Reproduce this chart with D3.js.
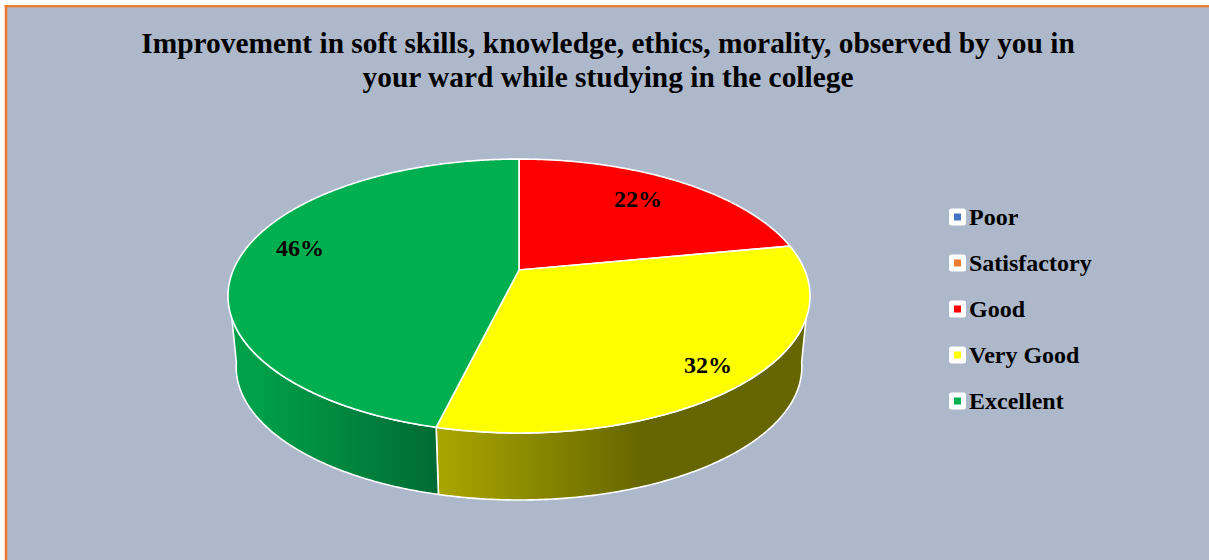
<!DOCTYPE html>
<html><head><meta charset="utf-8">
<script src="https://cdn.jsdelivr.net/npm/d3@7"></script>
<style>html,body{margin:0;padding:0;background:#fff;overflow:hidden}</style></head>
<body><svg id="c" width="1209" height="560"></svg>
<script>
const titleLines = ["Improvement in soft skills, knowledge, ethics, morality, observed by you in", "your ward while studying in the college"];
const categories = ["Poor", "Satisfactory", "Good", "Very Good", "Excellent"];
const values = [0, 0, 22, 31.8, 46.2];
const colors = ["#4472c4", "#ed7d31", "#ff0000", "#ffff00", "#00b050"];
const wallStops = {
  "Very Good": [["#aaa600", 0], ["#666600", 0.55], ["#666600", 1]],
  "Excellent": [["#00a04a", 0], ["#00a04a", 0.12], ["#006b33", 1]]
};

const svg = d3.select("#c");
const FONT = "'Liberation Serif','Times New Roman',serif";
svg.append("rect").attr("x",5).attr("y",5).attr("width",1204).attr("height",555).attr("fill","#adb9ca");
svg.append("rect").attr("x",4.7).attr("y",5).attr("width",1205).attr("height",2.3).attr("fill","#ed7d31");
svg.append("rect").attr("x",4.7).attr("y",5).attr("width",2.6).attr("height",555).attr("fill","#ed7d31");

svg.selectAll("text.t").data(titleLines).join("text").attr("class","t")
  .attr("x",608).attr("y",(d,i)=>53+i*34).attr("text-anchor","middle")
  .attr("font-family",FONT).attr("font-weight","bold").attr("font-size",29.4).attr("fill","#000").text(d=>d);

// perspective projection of the pie disc
const cx=519, k=0.19, a=285.7, b=132;
const project=(t,s,y0)=>{const X=Math.sin(t),Y=Math.cos(t),w=1+k*Y;return [cx+s*a*X/w,y0-s*b*Y/w];};
const TOP={s:1,y0:270}, BOT={s:0.972,y0:341.6};
const rad=d=>d*Math.PI/180;
// angular range of each disc's rim that lies on the visible wall silhouette
const TOP_VIS=[rad(110),rad(250)], BOT_VIS=[rad(99),rad(261)];
const arcPts=(a0,a1,f)=>{const n=Math.max(2,Math.ceil((a1-a0)/0.01));return d3.range(n+1).map(i=>project(a0+(a1-a0)*i/n,f.s,f.y0));};
const line=d3.line();

const pie=d3.pie().sort(null)(values);
const slices=pie.map((p,i)=>({name:categories[i],color:colors[i],value:values[i],a0:p.startAngle,a1:p.endAngle})).filter(d=>d.value>0);

const defs=svg.append("defs");
const wallExt={"Very Good":[438,810],"Excellent":[232,438]};
// walls
slices.filter(d=>wallStops[d.name]).forEach((d,i)=>{
  const id="g"+i;
  const ext=wallExt[d.name];
  const g=defs.append("linearGradient").attr("id",id).attr("gradientUnits","userSpaceOnUse")
    .attr("x1",ext[0]).attr("x2",ext[1]).attr("y1",0).attr("y2",0);
  wallStops[d.name].forEach(s=>g.append("stop").attr("offset",s[1]).attr("stop-color",s[0]));
  const top=arcPts(Math.max(d.a0,TOP_VIS[0]),Math.min(d.a1,TOP_VIS[1]),TOP);
  const bot=arcPts(Math.max(d.a0,BOT_VIS[0]),Math.min(d.a1,BOT_VIS[1]),BOT).reverse();
  svg.append("path").attr("d",line(top.concat(bot))+"Z").attr("fill",`url(#${id})`)
    .attr("stroke","#fff").attr("stroke-width",1.6).attr("stroke-linejoin","round");
});
// top face
slices.forEach(d=>{
  const pts=[[cx,TOP.y0]].concat(arcPts(d.a0,d.a1,TOP));
  svg.append("path").attr("d",line(pts)+"Z").attr("fill",d.color)
    .attr("stroke","#fff").attr("stroke-width",1.6).attr("stroke-linejoin","round");
});
// data labels
const labelPos={"Good":[638,207],"Very Good":[708,373],"Excellent":[300,256]};
slices.forEach(d=>{
  svg.append("text").attr("x",labelPos[d.name][0]).attr("y",labelPos[d.name][1]).attr("text-anchor","middle")
    .attr("font-family",FONT).attr("font-weight","bold").attr("font-size",24).text(Math.round(d.value)+"%");
});
// legend
const ly=d3.scalePoint().domain(categories).range([217,401]);
const leg=svg.selectAll("g.l").data(categories).join("g").attr("class","l").attr("transform",d=>`translate(949,${ly(d)})`);
leg.append("rect").attr("x",0).attr("y",-8.5).attr("width",17).attr("height",17).attr("rx",2.5).attr("fill","#fff");
leg.append("rect").attr("x",5).attr("y",-3.5).attr("width",7).attr("height",7).attr("fill",(d,i)=>colors[i]);
leg.append("text").attr("x",20).attr("y",7.6).attr("font-family",FONT).attr("font-weight","bold").attr("font-size",24).attr("fill","#000").text(d=>d);
</script></body></html>
